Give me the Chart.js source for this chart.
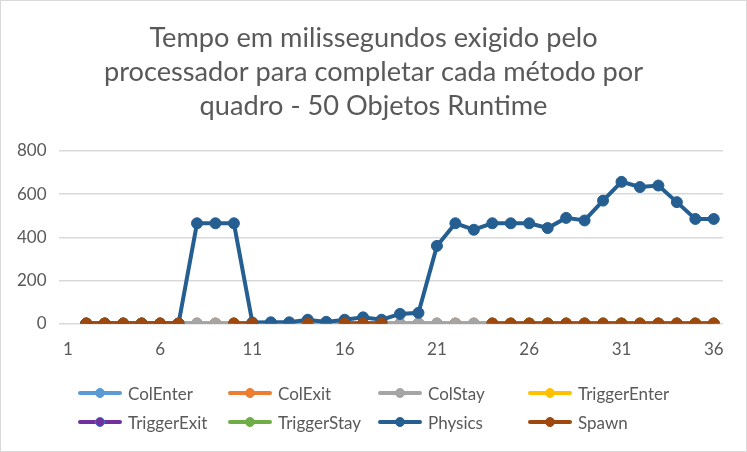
<!DOCTYPE html>
<html>
<head>
<meta charset="utf-8">
<script src="https://cdn.jsdelivr.net/npm/chart.js@4.4.1/dist/chart.umd.min.js"></script>
<style>
  html, body { margin: 0; padding: 0; background: #fff; }
  #wrap { position: relative; width: 747px; height: 452px; box-sizing: border-box; border: 1px solid #d9d9d9; background: #fff; }
  #c { position: absolute; left: 0; top: 0; }
  #legend { position: absolute; left: 0; top: 0; width: 100%; font-family: Lato, "Liberation Sans", sans-serif; font-size: 17px; color: #595959; }
  .item { position: absolute; display: flex; align-items: center; height: 24px; white-space: nowrap; }
  .sym { position: relative; width: 44px; height: 24px; margin-right: 6px; }
  .sym .ln { position: absolute; left: 0; right: 0; top: 10px; height: 4px; border-radius: 2px; }
  .sym .mk { position: absolute; left: 17px; top: 7px; width: 10px; height: 10px; border-radius: 50%; box-sizing: border-box; }
</style>
</head>
<body>
<div id="wrap">
  <canvas id="c" width="745" height="450"></canvas>
  <div id="legend"></div>
</div>
<script>
const titleLines = ["Tempo em milissegundos exigido pelo", "processador para completar cada método por", "quadro - 50 Objetos Runtime"];
const categories = ["1","2","3","4","5","6","7","8","9","10","11","12","13","14","15","16","17","18","19","20","21","22","23","24","25","26","27","28","29","30","31","32","33","34","35","36"];
const yTicks = [0, 200, 400, 600, 800];
const seriesNames = ["ColEnter", "ColExit", "ColStay", "TriggerEnter", "TriggerExit", "TriggerStay", "Physics", "Spawn"];
const seriesColors = ["#5B9BD5", "#ED7D31", "#A5A5A5", "#FFC000", "#7030A0", "#70AD47", "#255E91", "#9E480E"];
const markerBorders = ["#5B9BD5", "#ED7D31", "#A5A5A5", "#FFC000", "#4472C4", "#70AD47", "#255E91", "#9E480E"];

const colEnter     = [null,0,0,0,0,0,0,0,0,0,0,0,0,0,0,0,0,0,0,0,0,0,0,0,0,0,0,0,0,0,0,0,0,0,0,0];
const colExit      = [null,0,0,0,0,0,0,0,0,0,0,0,0,0,0,0,0,0,0,0,0,0,0,0,0,0,0,0,0,0,0,0,0,0,0,0];
const colStay      = [null,0,0,0,0,0,0,0,0,0,0,0,0,0,0,0,0,0,0,0,0,0,0,0,0,0,0,0,0,0,0,0,0,0,0,0];
const triggerEnter = [null,0,0,0,0,0,0,null,null,0,0,null,null,0,null,0,0,0,null,null,null,null,null,0,0,0,0,0,0,0,0,0,0,0,0,0];
const triggerExit  = [null,0,0,0,0,0,0,null,null,0,0,null,null,0,null,0,0,0,null,null,null,null,null,0,0,0,0,0,0,0,0,0,0,0,0,0];
const triggerStay  = [null,0,0,0,0,0,0,null,null,0,0,null,null,0,null,0,0,0,null,null,null,null,null,0,0,0,0,0,0,0,0,0,0,0,0,0];
const physics      = [null,0,0,0,0,0,0,465,465,465,5,6,6,18,8,18,29,18,45,50,360,465,435,465,465,465,443,490,478,570,657,633,640,563,485,485];
const spawn        = [null,0,0,0,0,0,0,null,null,0,0,null,null,0,null,0,0,0,null,null,null,null,null,0,0,0,0,0,0,0,0,0,0,0,0,0];

const seriesData = [colEnter, colExit, colStay, triggerEnter, triggerExit, triggerStay, physics, spawn];

const textColor = "#595959";
const fontFam = "Lato, 'Liberation Sans', sans-serif";

const datasets = seriesNames.map((name, i) => ({
  label: name,
  data: seriesData[i],
  borderColor: seriesColors[i],
  backgroundColor: seriesColors[i],
  pointBackgroundColor: seriesColors[i],
  pointBorderColor: markerBorders[i],
  pointBorderWidth: 1,
  pointRadius: 5.5,
  pointHoverRadius: 5.5,
  borderWidth: 4,
  tension: 0,
  spanGaps: false,
  order: seriesNames.length - i
}));

new Chart(document.getElementById("c"), {
  type: "line",
  data: { labels: categories, datasets: datasets },
  options: {
    responsive: false,
    animation: false,
    events: [],
    layout: { padding: { left: 4, right: 4, top: 0, bottom: 83 } },
    plugins: {
      legend: { display: false },
      tooltip: { enabled: false },
      title: {
        display: true,
        text: titleLines,
        color: textColor,
        font: { family: fontFam, size: 27.2, weight: "normal", lineHeight: 1.25 },
        padding: { top: 20, bottom: 28 }
      }
    },
    scales: {
      x: {
        type: "category",
        offset: true,
        grid: { display: false },
        border: { display: false },
        ticks: {
          autoSkip: false,
          maxRotation: 0,
          minRotation: 0,
          color: textColor,
          font: { family: fontFam, size: 17 },
          padding: 8,
          callback: function (v, idx) { return idx % 5 === 0 ? categories[idx] : null; }
        }
      },
      y: {
        min: yTicks[0],
        max: yTicks[yTicks.length - 1],
        afterBuildTicks: function (axis) { axis.ticks = yTicks.map(v => ({ value: v })); },
        grid: { color: "#d9d9d9", lineWidth: 1.5, drawTicks: false },
        border: { display: false },
        ticks: {
          color: textColor,
          font: { family: fontFam, size: 17 },
          padding: 12
        }
      },
      yRight: {
        position: "right",
        display: true,
        min: yTicks[0],
        max: yTicks[yTicks.length - 1],
        grid: { display: false, drawTicks: false },
        border: { display: false },
        ticks: { display: false },
        afterFit: function (axis) { axis.width = 19; }
      }
    }
  }
});

// Legend (HTML) in a 4-column grid
const legend = document.getElementById("legend");
const colX = [77, 227, 377, 527];
const rowY = [380, 409];
seriesNames.forEach((name, i) => {
  const it = document.createElement("div");
  it.className = "item";
  it.style.left = colX[i % 4] + "px";
  it.style.top = rowY[Math.floor(i / 4)] + "px";
  const sym = document.createElement("div");
  sym.className = "sym";
  const ln = document.createElement("div");
  ln.className = "ln";
  ln.style.background = seriesColors[i];
  const mk = document.createElement("div");
  mk.className = "mk";
  mk.style.background = seriesColors[i];
  mk.style.border = "1.5px solid " + markerBorders[i];
  sym.appendChild(ln);
  sym.appendChild(mk);
  const tx = document.createElement("span");
  tx.textContent = name;
  it.appendChild(sym);
  it.appendChild(tx);
  legend.appendChild(it);
});
</script>
</body>
</html>
